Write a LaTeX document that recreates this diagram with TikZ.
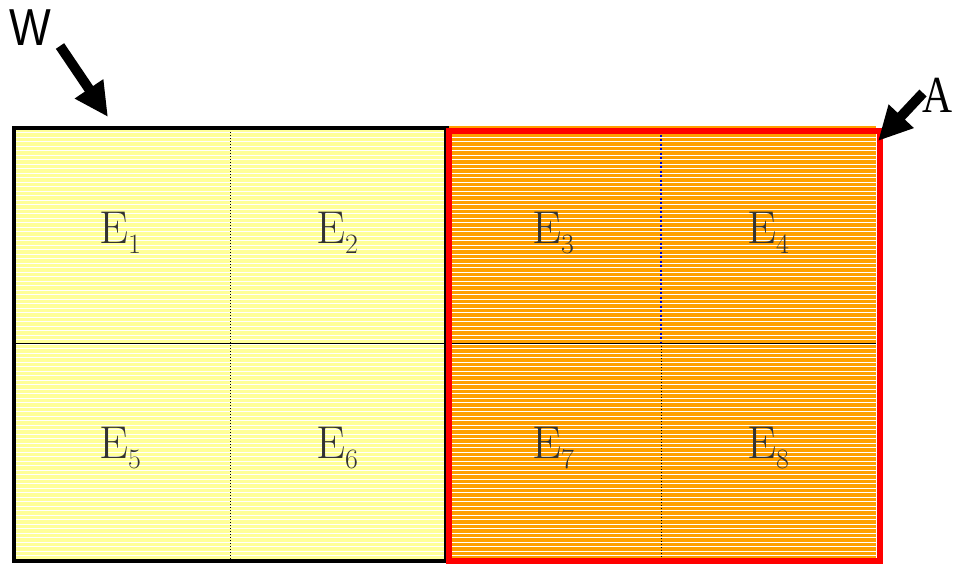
\documentclass[tikz,border=0pt]{standalone}
\usepackage{fontspec}
\newfontfamily\sansf{Liberation Sans}
\newfontfamily\seriff{Liberation Serif}
\usetikzlibrary{arrows.meta}
\definecolor{lyel}{RGB}{255,255,153}
\definecolor{orng}{RGB}{255,160,0}
\definecolor{redb}{RGB}{255,0,0}
\newcommand{\elab}[1]{E\raisebox{-10pt}{\fontsize{28}{28}\selectfont #1}}
\tikzset{
  cell/.style={font=\rmfamily\fontsize{46}{46}\selectfont, text=black!80, inner sep=0pt},
  bigarrow/.style={line width=10pt, -{Triangle[length=34pt,width=32pt]}},
  stripe/.style={white, line width=0.9pt},
}
\begin{document}
\begin{tikzpicture}[x=1pt,y=-1pt]
\useasboundingbox (0,0) rectangle (955,566);
% fills
\fill[lyel] (12,126) rectangle (445,559);
\fill[orng] (445,126) rectangle (876,559);
% stripes
\foreach \k in {0,...,96} {
  \draw[stripe] (12,{128+4.5*\k}) -- (876,{128+4.5*\k});
}
% labels
\node[cell] (e1) at (120,233) {\elab{1}};
\node[cell] (e2) at (337,233) {\elab{2}};
\node[cell] (e3) at (553,233) {\elab{3}};
\node[cell] (e4) at (768,233) {\elab{4}};
\node[cell] (e5) at (120,448) {\elab{5}};
\node[cell] (e6) at (337,448) {\elab{6}};
\node[cell] (e7) at (553,448) {\elab{7}};
\node[cell] (e8) at (768,448) {\elab{8}};
% grid lines
\draw[black, line width=0.8pt] (12,343) -- (876,343);
\draw[black, line width=1pt, dotted] (230,126) -- (230,559);
\draw[blue!80!black, line width=2pt, dash pattern=on 2pt off 2.5pt] (661,130) -- (661,343);
\draw[black, line width=1pt, dotted] (661,343) -- (661,559);
% borders
\node[draw=black, line width=4pt, minimum width=433pt, minimum height=433pt, inner sep=0pt, anchor=north west] (w) at (12,126) {};
\node[draw=redb, line width=6pt, minimum width=431pt, minimum height=430pt, inner sep=0pt, anchor=north west] (a) at (446,128) {};
\draw[black, line width=2.5pt] (445,129) -- (445,559);
% labels and arrows
\node[font=\sansf\fontsize{52}{52}\selectfont, xscale=0.85] (wl) at (30,28) {W};
\node[font=\seriff\fontsize{52}{52}\selectfont, xscale=0.8] (al) at (938,95) {A};
\coordinate (wt) at (60,46);
\coordinate (at) at (923,93);
\draw[bigarrow] (wt) -- (108,117);
\draw[bigarrow] (at) -- (878,141);
\end{tikzpicture}
\end{document}
